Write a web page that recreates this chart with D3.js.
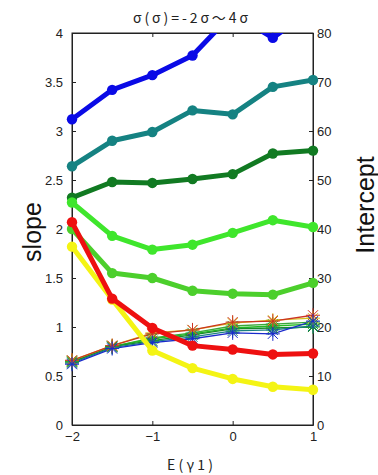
<!DOCTYPE html>
<html>
<head>
<meta charset="utf-8">
<script src="https://cdn.jsdelivr.net/npm/d3@7"></script>
<style>
html,body{margin:0;padding:0;background:#fff;}
svg{display:block;}
</style>
</head>
<body>
<svg id="chart" width="378" height="475"></svg>
<script>
// ---- data ----
const xs = [-2, -1.5, -1, -0.5, 0, 0.5, 1];

// thick lines (slope, left axis)
const slopeBlue      = [3.12, 3.42, 3.57, 3.77, 4.2, 3.95, 4.25];
const slopeTeal      = [2.64, 2.90, 2.99, 3.21, 3.17, 3.45, 3.52];
const slopeDarkGreen = [2.32, 2.48, 2.47, 2.51, 2.56, 2.77, 2.80];
const slopeGreen     = [2.27, 1.93, 1.79, 1.84, 1.96, 2.09, 2.02];
const slopeMidGreen  = [2.00, 1.55, 1.50, 1.37, 1.34, 1.33, 1.45];
const slopeYellow    = [1.82, 1.28, 0.76, 0.58, 0.47, 0.39, 0.36];
const slopeRed       = [2.07, 1.29, 0.99, 0.81, 0.77, 0.72, 0.73];

// thin star lines (intercept, right axis)
const icptBlue      = [12.4, 15.6, 16.8, 17.6, 18.8, 18.6, 21.2];
const icptTeal      = [12.6, 15.8, 17.0, 18.0, 19.2, 19.4, 20.2];
const icptDarkGreen = [12.8, 16.0, 17.2, 18.4, 19.6, 19.8, 20.0];
const icptGreen     = [13.0, 16.0, 17.6, 18.6, 19.8, 20.2, 20.6];
const icptMidGreen  = [13.0, 16.0, 17.8, 18.8, 20.2, 20.6, 21.0];
const icptYellow    = [13.2, 16.2, 18.8, 19.4, 20.8, 21.4, 21.8];
const icptRed       = [13.2, 16.2, 18.6, 19.4, 21.0, 21.2, 22.4];

const xTicks = [-2, -1, 0, 1];
const leftTicks = [0, 0.5, 1, 1.5, 2, 2.5, 3, 3.5, 4];
const rightTicks = [0, 10, 20, 30, 40, 50, 60, 70, 80];

const titleText = "σ(σ)=-2σ〜4σ";
const xLabel = "E(γ1)";
const yLeftLabel = "slope";
const yRightLabel = "Intercept";

// ---- layout ----
const L = 72, R = 313, T = 33, B = 425;
const svg = d3.select("#chart");
const x = d3.scaleLinear().domain([-2, 1]).range([L, R]);
const yL = d3.scaleLinear().domain([0, 4]).range([B, T]);
const yR = d3.scaleLinear().domain([0, 80]).range([B, T]);

const defs = svg.append("defs");
defs.append("clipPath").attr("id", "clip")
  .append("rect").attr("x", L).attr("y", T).attr("width", R - L).attr("height", B - T);
defs.append("clipPath").attr("id", "clipM")
  .append("rect").attr("x", L - 8).attr("y", T - 8).attr("width", R - L + 16).attr("height", B - T + 16);

const tickFont = "Liberation Sans, Arial, sans-serif";

// axes
const fmt = d3.format("~g");
const gLeft = svg.append("g").attr("transform", `translate(${L},0)`)
  .call(d3.axisLeft(yL).tickValues(leftTicks).tickFormat(fmt).tickSizeInner(-4).tickSizeOuter(0).tickPadding(9));
const gRight = svg.append("g").attr("transform", `translate(${R},0)`)
  .call(d3.axisRight(yR).tickValues(rightTicks).tickFormat(fmt).tickSizeInner(-4).tickSizeOuter(0).tickPadding(4));
const gBottom = svg.append("g").attr("transform", `translate(0,${B})`)
  .call(d3.axisBottom(x).tickValues(xTicks).tickFormat(fmt).tickSizeInner(-4).tickSizeOuter(0).tickPadding(7));
const gTop = svg.append("g").attr("transform", `translate(0,${T})`)
  .call(d3.axisTop(x).tickValues(xTicks).tickFormat("").tickSizeInner(-4).tickSizeOuter(0));

[gLeft, gRight, gBottom, gTop].forEach(g => {
  g.selectAll("text").attr("font-family", tickFont).attr("font-size", 13).attr("fill", "#222");
  g.selectAll("line,path").attr("stroke", "#222").attr("stroke-width", 1);
});

// box
svg.append("rect").attr("x", L).attr("y", T).attr("width", R - L).attr("height", B - T)
  .attr("fill", "none").attr("stroke", "#222").attr("stroke-width", 1);

// data
const plot = svg.append("g").attr("clip-path", "url(#clip)");
const marks = svg.append("g").attr("clip-path", "url(#clipM)");

const thick = [
  {v: slopeBlue, c: "#0a0ae6"},
  {v: slopeTeal, c: "#158282"},
  {v: slopeDarkGreen, c: "#117a22"},
  {v: slopeGreen, c: "#3fe62c"},
  {v: slopeMidGreen, c: "#4ccf2c"},
  {v: slopeYellow, c: "#f4f414"},
  {v: slopeRed, c: "#ee1010"}
];
const thin = [
  {v: icptMidGreen, c: "#3aa83a"},
  {v: icptGreen, c: "#22bb22"},
  {v: icptDarkGreen, c: "#1a8a2a"},
  {v: icptTeal, c: "#1a8080"},
  {v: icptYellow, c: "#d8c020"},
  {v: icptRed, c: "#cc3322"},
  {v: icptBlue, c: "#1a2acc"}
];

const lineL = d3.line().x((d, i) => x(xs[i])).y(d => yL(d));
const lineR = d3.line().x((d, i) => x(xs[i])).y(d => yR(d));

thick.forEach(s => {
  const g = svg.append("g");
  g.append("path").attr("clip-path", "url(#clip)").attr("d", lineL(s.v)).attr("fill", "none")
    .attr("stroke", s.c).attr("stroke-width", 5).attr("stroke-linejoin", "round");
  g.append("g").attr("clip-path", "url(#clipM)").selectAll(null)
    .data(s.v.map((d, i) => ({d, i})).filter(o => o.d <= 4)).enter().append("circle")
    .attr("cx", o => x(xs[o.i])).attr("cy", o => yL(o.d)).attr("r", 5.2).attr("fill", s.c);
});

const star = (cx, cy, r) => {
  const k = r * 0.72;
  return `M${cx - r},${cy}L${cx + r},${cy}M${cx},${cy - r}L${cx},${cy + r}` +
         `M${cx - k},${cy - k}L${cx + k},${cy + k}M${cx - k},${cy + k}L${cx + k},${cy - k}`;
};

thin.forEach(s => {
  plot.append("path").attr("d", lineR(s.v)).attr("fill", "none")
    .attr("stroke", s.c).attr("stroke-width", 1.3);
  marks.selectAll(null).data(s.v).enter().append("path")
    .attr("d", (d, i) => star(x(xs[i]), yR(d), 7)).attr("fill", "none")
    .attr("stroke", s.c).attr("stroke-width", 1);
});

// titles
svg.append("text").attr("x", 190.5).attr("y", 23).attr("text-anchor", "middle")
  .attr("font-family", "Noto Sans CJK JP, sans-serif").attr("font-size", 14).attr("fill", "#222")
  .attr("textLength", 115).attr("lengthAdjust", "spacing")
  .text(titleText);
svg.append("text").attr("x", 190).attr("y", 470).attr("text-anchor", "middle")
  .attr("font-family", "Noto Sans CJK JP, sans-serif").attr("font-size", 14).attr("fill", "#222")
  .attr("textLength", 46).attr("lengthAdjust", "spacing")
  .text(xLabel);
svg.append("text").attr("transform", `translate(41,232) rotate(-90)`).attr("text-anchor", "middle")
  .attr("font-family", tickFont).attr("font-size", 25).attr("fill", "#111")
  .text(yLeftLabel);
svg.append("text").attr("transform", `translate(374,205) rotate(-90)`).attr("text-anchor", "middle")
  .attr("font-family", tickFont).attr("font-size", 25).attr("fill", "#111")
  .text(yRightLabel);
</script>
</body>
</html>
